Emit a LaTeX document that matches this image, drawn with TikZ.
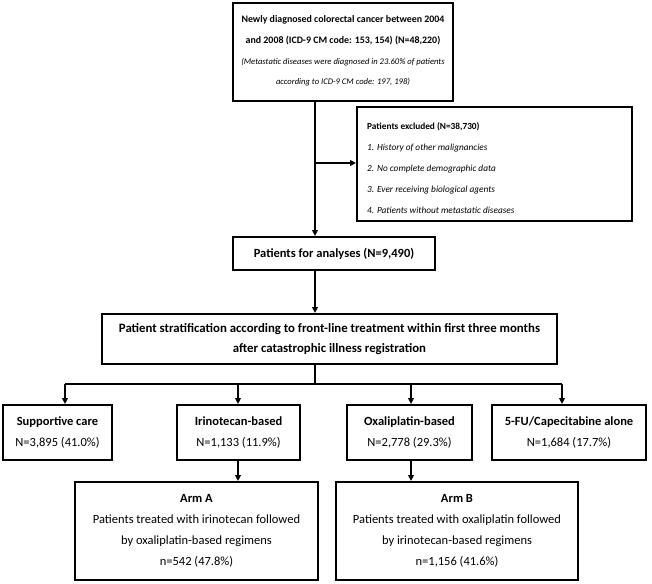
\documentclass[tikz,border=0pt]{standalone}
\usepackage{fontspec}
\setmainfont{Carlito}
\usetikzlibrary{arrows.meta}
\begin{document}
\begin{tikzpicture}[x=1pt,y=-1pt,
  box/.style={draw,line width=1.8pt,inner sep=0pt,align=center},
  arr/.style={line width=1.5pt,-{Triangle[length=6pt,width=5.5pt]}},
  ln/.style={line width=1.5pt},
  mainfs/.style={font=\fontsize{12.5}{21}\selectfont}]
\useasboundingbox (0,0) rectangle (652,583);
% top box
\node[box,minimum width=220pt,minimum height=98pt] (top) at (343,52) {};
\node[align=center,font=\bfseries\fontsize{9.9}{21}\selectfont] (toptxt) at (343,30)
  {Newly diagnosed colorectal cancer between 2004\\and 2008 (ICD-9 CM code: 153, 154) (N=48,220)};
\node[align=center,font=\itshape\fontsize{8.6}{20}\selectfont] (topit) at (343,72)
  {(Metastatic diseases were diagnosed in 23.60\% of patients\\according to ICD-9 CM code: 197, 198)};
% excluded box
\node[box,minimum width=275pt,minimum height=114pt] (excl) at (494.5,164) {};
\node[anchor=west,align=left,font=\fontsize{9.3}{21}\selectfont,inner sep=0pt] (excltxt) at (367,168)
  {\textbf{Patients excluded (N=38,730)}\\\textit{1. History of other malignancies}\\\textit{2. No complete demographic data}\\\textit{3. Ever receiving biological agents}\\\textit{4. Patients without metastatic diseases}};
% analyses
\node[box,font=\bfseries\fontsize{12.5}{21}\selectfont,minimum width=202pt,minimum height=33pt] (anal) at (334,253.5) {Patients for analyses (N=9,490)};
% stratification
\node[box,font=\bfseries\fontsize{12.8}{20}\selectfont,minimum width=455pt,minimum height=50pt] (strat) at (329.5,339)
  {Patient stratification according to front-line treatment within first three months\\after catastrophic illness registration};
% row boxes
\node[box,mainfs,minimum width=109pt,minimum height=55pt] (sup) at (57.5,432.5) {\textbf{Supportive care}\\N=3,895 (41.0\%)};
\node[box,mainfs,minimum width=123pt,minimum height=55pt] (iri) at (238.5,432.5) {\textbf{Irinotecan-based}\\N=1,133 (11.9\%)};
\node[box,mainfs,minimum width=125pt,minimum height=55pt] (oxa) at (409.5,432.5) {\textbf{Oxaliplatin-based}\\N=2,778 (29.3\%)};
\node[box,mainfs,minimum width=154pt,minimum height=55pt] (fu) at (569,432.5) {\textbf{5-FU/Capecitabine alone}\\N=1,684 (17.7\%)};
% arm boxes
\node[box,mainfs,minimum width=243pt,minimum height=98pt] (armA) at (196.5,531)
  {\textbf{Arm A}\\Patients treated with irinotecan followed\\by oxaliplatin-based regimens\\n=542 (47.8\%)};
\node[box,mainfs,minimum width=242pt,minimum height=98pt] (armB) at (457,531)
  {\textbf{Arm B}\\Patients treated with oxaliplatin followed\\by irinotecan-based regimens\\n=1,156 (41.6\%)};
% connectors
\coordinate (m1) at (315,163);
\coordinate (br) at (315,384);
\coordinate (bsup) at (65,384);
\coordinate (biri) at (238,384);
\coordinate (boxa) at (411,384);
\coordinate (bfu) at (562,384);
\draw[arr] (top.south -| m1) -- (anal.north -| m1);
\draw[arr] (m1) -- (excl.west |- m1);
\draw[arr] (anal.south -| m1) -- (strat.north -| m1);
\draw[ln] (strat.south -| br) -- (br);
\draw[ln] (bsup) -- (bfu);
\draw[arr] (bsup) -- (sup.north -| bsup);
\draw[arr] (biri) -- (iri.north -| biri);
\draw[arr] (boxa) -- (oxa.north -| boxa);
\draw[arr] (bfu) -- (fu.north -| bfu);
\draw[arr] (iri.south -| biri) -- (armA.north -| biri);
\draw[arr] (oxa.south -| boxa) -- (armB.north -| boxa);
\end{tikzpicture}
\end{document}
